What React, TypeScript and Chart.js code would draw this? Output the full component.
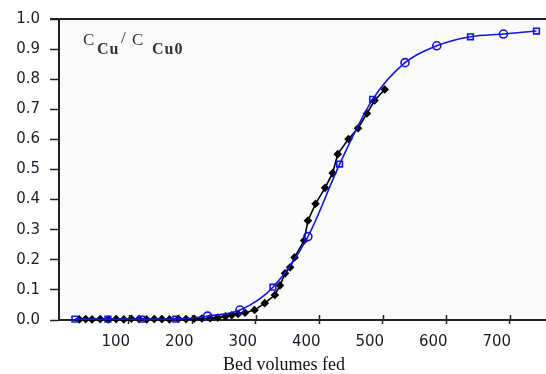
import React, { useEffect, useRef } from "react";
import { Chart, registerables } from "chart.js";

Chart.register(...registerables);

// Experimental (black filled markers): bed volumes fed, C/C0
const expBV = [22, 32, 42, 55, 68, 80, 92, 104, 116, 128, 140, 152, 164, 178, 190, 203, 215, 228, 240, 252, 262, 272, 283, 298, 314, 330, 338, 346, 354, 361, 376, 382, 394, 409, 421, 429, 446, 461, 475, 487, 503];
const expC = [0.002, 0.003, 0.002, 0.003, 0.002, 0.003, 0.002, 0.004, 0.003, 0.002, 0.003, 0.003, 0.002, 0.004, 0.003, 0.004, 0.005, 0.006, 0.008, 0.012, 0.016, 0.02, 0.024, 0.033, 0.056, 0.083, 0.115, 0.155, 0.175, 0.208, 0.264, 0.33, 0.386, 0.439, 0.488, 0.551, 0.601, 0.637, 0.686, 0.729, 0.766];

// Model (blue open markers)
const modelBV = [15, 67, 120, 174, 224, 275, 327, 382, 432, 484, 535, 585, 638, 690, 742];
const modelC = [0.003, 0.003, 0.003, 0.003, 0.013, 0.033, 0.109, 0.277, 0.518, 0.733, 0.855, 0.911, 0.941, 0.95, 0.96];

const xTicks = [100, 200, 300, 400, 500, 600, 700];
const xLabel = "Bed volumes fed";

const modelMarkers = ["rect", "rect", "rect", "rect", "circle", "circle", "rect", "circle", "rect", "rect", "circle", "circle", "rect", "circle", "rect"];

const AXIS = "#222222";
const TEXT = "#1c1c2c";

export default function App() {
  const ref = useRef<HTMLCanvasElement | null>(null);
  useEffect(() => {
    if (!ref.current) return;
    const deco = {
      id: "deco",
      beforeDraw(chart: any) {
        const { ctx, chartArea: a } = chart;
        ctx.save();
        ctx.fillStyle = "#fafafa";
        ctx.fillRect(a.left, a.top, a.right - a.left, a.bottom - a.top);
        ctx.restore();
      },
      afterDraw(chart: any) {
        const { ctx, chartArea: a } = chart;
        const xs = chart.scales.x;
        ctx.save();
        ctx.strokeStyle = AXIS;
        ctx.lineWidth = 2;
        ctx.beginPath();
        ctx.moveTo(a.left - 9, a.top);
        ctx.lineTo(a.right, a.top);
        ctx.stroke();
        ctx.lineWidth = 1.5;
        ctx.beginPath();
        xTicks.forEach((v) => {
          const px = Math.round(xs.getPixelForValue(v)) + 0.5;
          ctx.moveTo(px, a.bottom);
          ctx.lineTo(px, a.bottom - 5);
        });
        ctx.stroke();
        // axis title
        ctx.fillStyle = "#111";
        ctx.font = "18px 'Liberation Serif', serif";
        ctx.textAlign = "center";
        ctx.textBaseline = "alphabetic";
        ctx.fillText(xLabel, 284, 370);
        // C_Cu / C_Cu0 label
        ctx.textAlign = "left";
        ctx.fillStyle = "#333";
        ctx.font = "17px 'Liberation Serif', serif";
        ctx.fillText("C", 83, 45);
        ctx.font = "bold 16px 'Liberation Serif', serif";
        (ctx as any).letterSpacing = "1px";
        ctx.fillText("Cu", 97, 54);
        (ctx as any).letterSpacing = "0px";
        ctx.font = "17px 'Liberation Serif', serif";
        ctx.fillText("/", 121, 43);
        ctx.fillText("C", 132, 45);
        ctx.font = "bold 16px 'Liberation Serif', serif";
        (ctx as any).letterSpacing = "1px";
        ctx.fillText("Cu0", 152, 54);
        (ctx as any).letterSpacing = "0px";
        ctx.restore();
      },
    };
    const chart = new Chart(ref.current, {
      type: "line",
      data: {
        datasets: [
          {
            label: "model",
            data: modelBV.map((x, i) => ({ x, y: modelC[i] })),
            borderColor: "#1414d8",
            backgroundColor: "rgba(255,255,255,0)",
            borderWidth: 1.6,
            pointStyle: modelMarkers as any,
            pointRadius: 4,
            pointBorderWidth: 1.6,
            pointBorderColor: "#1414d8",
            pointBackgroundColor: "rgba(255,255,255,0)",
            tension: 0.4,
            cubicInterpolationMode: "monotone",
            clip: false,
          },
          {
            label: "experiment",
            data: expBV.map((x, i) => ({ x, y: expC[i] })),
            borderColor: "#000",
            backgroundColor: "#000",
            borderWidth: 1.6,
            pointStyle: "rectRot",
            pointRadius: 4.3,
            pointBorderWidth: 0,
            pointBackgroundColor: "#000",
            tension: 0,
            clip: false,
          },
        ],
      },
      options: {
        animation: false,
        responsive: false,
        layout: { autoPadding: false, padding: { top: 17, right: 0, left: 0, bottom: 0 } },
        plugins: { legend: { display: false }, tooltip: { enabled: false } },
        scales: {
          x: {
            type: "linear",
            min: -10,
            max: 757,
            afterBuildTicks: (s: any) => {
              s.ticks = xTicks.map((v) => ({ value: v }));
            },
            afterFit: (s: any) => {
              s.height = 54;
            },
            grid: {
              drawOnChartArea: false,
              tickLength: 4,
              tickColor: AXIS,
              tickWidth: 1.5,
            },
            border: { color: AXIS, width: 2 },
            ticks: {
              autoSkip: false,
              maxRotation: 0,
              labelOffset: -13,
              padding: 9,
              color: TEXT,
              font: { family: "'DejaVu Sans'", size: 15 },
              callback: (v: any) => String(v),
            },
          },
          y: {
            type: "linear",
            min: 0,
            max: 1,
            afterFit: (s: any) => {
              s.width = 59;
            },
            grid: {
              drawOnChartArea: false,
              tickLength: 9,
              tickColor: AXIS,
              tickWidth: 1.5,
            },
            border: { color: AXIS, width: 2 },
            ticks: {
              stepSize: 0.1,
              padding: 10,
              color: TEXT,
              font: { family: "'DejaVu Sans'", size: 15 },
              callback: (v: any) => Number(v).toFixed(1),
            },
          },
        },
      },
      plugins: [deco],
    } as any);
    return () => chart.destroy();
  }, []);
  return (
    <canvas
      ref={ref}
      width={546}
      height={374}
      style={{ position: "fixed", left: 0, top: 0, width: 546, height: 374, display: "block", background: "#fff" }}
    />
  );
}
